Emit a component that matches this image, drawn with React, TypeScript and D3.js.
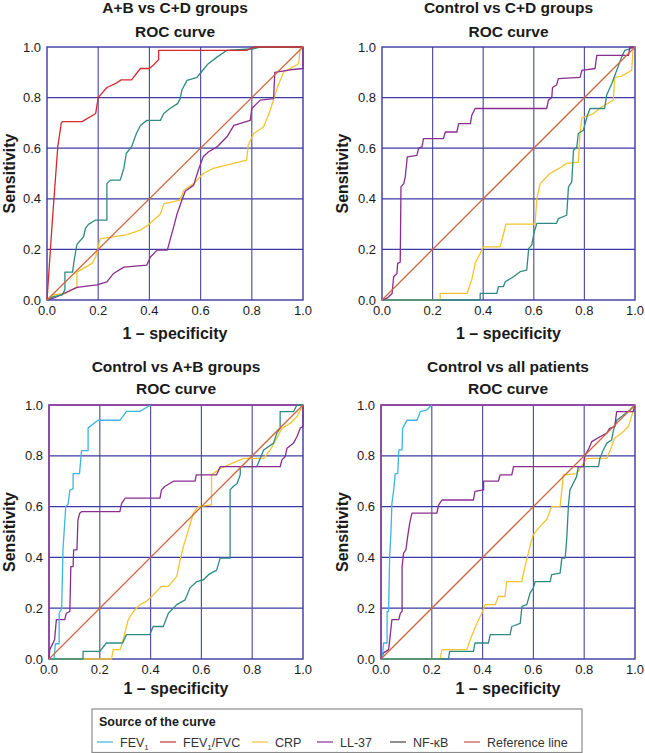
import React from "react";
import * as d3 from "d3";

type Pt = [number, number];

// ---------- DATA ----------
const ticks = [0, 0.2, 0.4, 0.6, 0.8, 1.0];
const tickLabels = ["0.0", "0.2", "0.4", "0.6", "0.8", "1.0"];
const panelTitles = ["A+B vs C+D groups", "Control vs C+D groups", "Control vs A+B groups", "Control vs all patients"];
const legendLabels = ["FEV1", "FEV1/FVC", "CRP", "LL-37", "NF-κB", "Reference line"];

// Panel 1: A+B vs C+D
const p1FevFvc: Pt[] = [[0,0],[0.02,0.3],[0.042,0.605],[0.056,0.7],[0.06,0.705],[0.137,0.705],[0.19,0.737],[0.2,0.8],[0.234,0.84],[0.267,0.855],[0.29,0.87],[0.33,0.87],[0.365,0.915],[0.4,0.915],[0.417,0.93],[0.436,0.95],[0.436,0.987],[0.78,0.987],[0.81,1],[1,1]];
const p1Nfkb: Pt[] = [[0,0],[0.013,0.007],[0.026,0.013],[0.059,0.02],[0.07,0.04],[0.07,0.11],[0.1,0.11],[0.105,0.15],[0.117,0.22],[0.143,0.25],[0.15,0.283],[0.163,0.3],[0.19,0.316],[0.234,0.316],[0.234,0.46],[0.247,0.474],[0.286,0.474],[0.3,0.52],[0.31,0.58],[0.33,0.605],[0.339,0.63],[0.35,0.66],[0.365,0.69],[0.39,0.71],[0.443,0.71],[0.456,0.737],[0.48,0.757],[0.51,0.776],[0.52,0.796],[0.527,0.83],[0.547,0.868],[0.586,0.88],[0.61,0.91],[0.63,0.934],[0.664,0.96],[0.703,0.987],[0.807,0.993],[0.833,1],[1,1]];
const p1Crp: Pt[] = [[0,0],[0.013,0.007],[0.026,0.02],[0.07,0.026],[0.117,0.05],[0.117,0.11],[0.176,0.145],[0.19,0.17],[0.2,0.21],[0.208,0.243],[0.31,0.257],[0.365,0.276],[0.4,0.3],[0.443,0.34],[0.456,0.38],[0.52,0.395],[0.534,0.434],[0.573,0.46],[0.61,0.5],[0.65,0.52],[0.78,0.553],[0.786,0.612],[0.807,0.658],[0.846,0.684],[0.872,0.75],[0.9,0.84],[0.924,0.9],[0.983,0.934],[0.99,1],[1,1]];
const p1Ll37: Pt[] = [[0,0],[0.026,0.007],[0.117,0.05],[0.195,0.06],[0.234,0.072],[0.26,0.105],[0.3,0.13],[0.39,0.138],[0.404,0.17],[0.43,0.197],[0.47,0.197],[0.495,0.29],[0.508,0.34],[0.527,0.395],[0.54,0.43],[0.573,0.454],[0.59,0.51],[0.61,0.566],[0.63,0.585],[0.664,0.605],[0.703,0.645],[0.73,0.69],[0.794,0.71],[0.8,0.757],[0.833,0.79],[0.885,0.796],[0.89,0.9],[0.95,0.91],[1,0.915],[1,1]];

// Panel 2: Control vs C+D
const p2Ll37: Pt[] = [[0,0],[0.02,0.007],[0.04,0.026],[0.046,0.092],[0.059,0.105],[0.062,0.145],[0.072,0.15],[0.075,0.447],[0.086,0.46],[0.092,0.487],[0.1,0.566],[0.138,0.572],[0.145,0.6],[0.158,0.605],[0.164,0.638],[0.243,0.638],[0.25,0.664],[0.296,0.664],[0.303,0.697],[0.349,0.697],[0.355,0.73],[0.368,0.757],[0.651,0.757],[0.658,0.79],[0.671,0.8],[0.674,0.84],[0.69,0.85],[0.697,0.875],[0.783,0.88],[0.79,0.908],[0.842,0.915],[0.849,0.967],[0.974,0.967],[0.98,1],[1,1]];
const p2Crp: Pt[] = [[0,0],[0.23,0],[0.23,0.026],[0.336,0.026],[0.355,0.08],[0.368,0.145],[0.388,0.184],[0.4,0.21],[0.467,0.21],[0.48,0.26],[0.49,0.3],[0.605,0.3],[0.612,0.4],[0.625,0.46],[0.664,0.5],[0.7,0.52],[0.73,0.54],[0.776,0.545],[0.782,0.65],[0.79,0.72],[0.836,0.737],[0.868,0.763],[0.914,0.79],[0.92,0.88],[0.947,0.885],[0.987,0.908],[0.993,1],[1,1]];
const p2Nfkb: Pt[] = [[0,0],[0.388,0],[0.388,0.026],[0.454,0.026],[0.46,0.053],[0.48,0.053],[0.487,0.072],[0.52,0.092],[0.546,0.112],[0.572,0.118],[0.58,0.204],[0.592,0.217],[0.6,0.263],[0.612,0.303],[0.69,0.303],[0.697,0.322],[0.73,0.335],[0.737,0.447],[0.75,0.467],[0.757,0.592],[0.77,0.605],[0.776,0.658],[0.796,0.671],[0.81,0.724],[0.822,0.757],[0.88,0.757],[0.888,0.81],[0.908,0.855],[0.928,0.908],[0.947,0.96],[0.96,0.987],[1,1]];

// Panel 3: Control vs A+B
const p3Perfect: Pt[] = [[0,0],[0,1],[1,1]];
const p3Fev1: Pt[] = [[0.02,0],[0.025,0.06],[0.04,0.06],[0.04,0.18],[0.05,0.2],[0.055,0.43],[0.066,0.6],[0.075,0.61],[0.082,0.665],[0.095,0.67],[0.095,0.73],[0.12,0.73],[0.128,0.82],[0.154,0.82],[0.154,0.91],[0.193,0.94],[0.28,0.94],[0.305,0.975],[0.358,0.975],[0.4,1]];
const p3Ll37: Pt[] = [[0,0],[0.003,0.037],[0.022,0.076],[0.029,0.155],[0.062,0.155],[0.068,0.18],[0.082,0.187],[0.086,0.364],[0.095,0.364],[0.097,0.43],[0.11,0.43],[0.114,0.548],[0.121,0.574],[0.128,0.58],[0.279,0.58],[0.286,0.613],[0.3,0.633],[0.437,0.633],[0.443,0.666],[0.457,0.68],[0.49,0.7],[0.575,0.7],[0.58,0.725],[0.66,0.725],[0.674,0.757],[0.91,0.757],[0.917,0.784],[0.93,0.797],[0.937,0.83],[0.963,0.85],[0.976,0.875],[0.99,0.91],[1,0.915],[1,1]];
const p3Nfkb: Pt[] = [[0,0],[0.134,0],[0.134,0.03],[0.2,0.03],[0.226,0.063],[0.29,0.063],[0.305,0.096],[0.397,0.096],[0.41,0.128],[0.45,0.128],[0.47,0.18],[0.503,0.214],[0.536,0.233],[0.555,0.28],[0.582,0.305],[0.608,0.312],[0.628,0.332],[0.66,0.35],[0.674,0.397],[0.713,0.397],[0.713,0.666],[0.726,0.68],[0.74,0.69],[0.753,0.725],[0.753,0.757],[0.818,0.757],[0.845,0.823],[0.884,0.85],[0.897,0.889],[0.91,0.908],[0.91,0.974],[0.963,0.974],[0.976,1],[1,1]];
const p3Crp: Pt[] = [[0,0],[0.246,0],[0.253,0.037],[0.28,0.037],[0.292,0.076],[0.312,0.155],[0.332,0.187],[0.358,0.214],[0.384,0.227],[0.404,0.246],[0.443,0.286],[0.47,0.286],[0.503,0.325],[0.516,0.39],[0.529,0.443],[0.549,0.508],[0.568,0.574],[0.588,0.6],[0.64,0.607],[0.64,0.725],[0.674,0.75],[0.72,0.77],[0.766,0.79],[0.845,0.79],[0.871,0.823],[0.897,0.869],[0.917,0.908],[0.95,0.928],[0.976,0.954],[1,1]];

// Panel 4: Control vs all patients
const p4Perfect: Pt[] = [[0,0],[0,1],[1,1]];
const p4Fev1: Pt[] = [[0.005,0],[0.01,0.063],[0.024,0.063],[0.024,0.187],[0.03,0.187],[0.034,0.403],[0.039,0.495],[0.043,0.613],[0.05,0.666],[0.056,0.73],[0.066,0.73],[0.07,0.823],[0.083,0.823],[0.085,0.908],[0.102,0.94],[0.142,0.94],[0.155,0.974],[0.18,0.98],[0.2,1]];
const p4Ll37: Pt[] = [[0,0],[0.01,0.024],[0.03,0.037],[0.037,0.1],[0.043,0.155],[0.07,0.155],[0.076,0.18],[0.083,0.187],[0.083,0.364],[0.089,0.417],[0.098,0.43],[0.105,0.482],[0.113,0.535],[0.122,0.574],[0.22,0.574],[0.227,0.607],[0.24,0.626],[0.364,0.626],[0.37,0.66],[0.404,0.666],[0.404,0.7],[0.462,0.7],[0.469,0.725],[0.515,0.725],[0.522,0.757],[0.797,0.757],[0.803,0.803],[0.816,0.823],[0.83,0.856],[0.862,0.875],[0.889,0.889],[0.9,0.908],[0.92,0.915],[0.928,0.974],[0.993,0.974],[1,1]];
const p4Nfkb: Pt[] = [[0,0],[0.266,0],[0.27,0.03],[0.364,0.03],[0.37,0.063],[0.423,0.063],[0.43,0.096],[0.508,0.096],[0.515,0.128],[0.548,0.14],[0.555,0.207],[0.574,0.214],[0.587,0.26],[0.6,0.28],[0.607,0.305],[0.666,0.305],[0.672,0.332],[0.705,0.338],[0.712,0.397],[0.725,0.397],[0.731,0.469],[0.738,0.607],[0.744,0.666],[0.757,0.692],[0.77,0.718],[0.777,0.757],[0.856,0.757],[0.862,0.79],[0.875,0.823],[0.889,0.85],[0.908,0.862],[0.915,0.9],[0.928,0.94],[0.98,0.98],[1,1]];
const p4Crp: Pt[] = [[0,0],[0.233,0],[0.24,0.037],[0.338,0.037],[0.351,0.076],[0.377,0.14],[0.397,0.18],[0.41,0.214],[0.45,0.214],[0.462,0.246],[0.488,0.246],[0.495,0.305],[0.554,0.305],[0.567,0.364],[0.593,0.469],[0.6,0.49],[0.626,0.522],[0.653,0.55],[0.672,0.6],[0.705,0.6],[0.718,0.725],[0.77,0.73],[0.797,0.77],[0.81,0.79],[0.889,0.79],[0.908,0.836],[0.92,0.87],[0.947,0.889],[0.974,0.915],[1,1]];

const refLine: Pt[] = [[0, 0], [1, 1]];

// ---------- STYLES ----------
const C = {
  fev1: "#3db4e4",
  fevfvc: "#d42a2e",
  crp: "#f4c430",
  ll37: "#8a2d8e",
  nfkb: "#2f8a82",
  nfkbLegend: "#444444",
  ref: "#d0663e",
  perfect: "#9a3a9e",
  grid: "#3a3aa2",
  gridV: "#5656a8",
  text: "#1a1a1a",
};

type Series = { pts: Pt[]; color: string };

const panels = [
  { x0: 47, x1: 303, y0: 47, y1: 300, titleY: 13, rocY: 37, xlabY: 339, ylabX: 15,
    series: [
      { pts: p1Crp, color: C.crp }, { pts: p1Ll37, color: C.ll37 }, { pts: p1Nfkb, color: C.nfkb },
      { pts: p1FevFvc, color: C.fevfvc }, { pts: refLine, color: C.ref },
    ] as Series[] },
  { x0: 382, x1: 635, y0: 47, y1: 300, titleY: 13, rocY: 37, xlabY: 339, ylabX: 348,
    series: [
      { pts: p2Crp, color: C.crp }, { pts: p2Nfkb, color: C.nfkb }, { pts: p2Ll37, color: C.ll37 },
      { pts: refLine, color: C.ref },
    ] as Series[] },
  { x0: 49, x1: 303, y0: 405, y1: 659, titleY: 372, rocY: 394, xlabY: 694, ylabX: 15,
    series: [
      { pts: p3Perfect, color: C.perfect }, { pts: p3Crp, color: C.crp }, { pts: p3Nfkb, color: C.nfkb },
      { pts: p3Ll37, color: C.ll37 }, { pts: p3Fev1, color: C.fev1 }, { pts: refLine, color: C.ref },
    ] as Series[] },
  { x0: 381, x1: 635, y0: 405, y1: 659, titleY: 372, rocY: 394, xlabY: 694, ylabX: 348,
    series: [
      { pts: p4Perfect, color: C.perfect }, { pts: p4Crp, color: C.crp }, { pts: p4Nfkb, color: C.nfkb },
      { pts: p4Ll37, color: C.ll37 }, { pts: p4Fev1, color: C.fev1 }, { pts: refLine, color: C.ref },
    ] as Series[] },
];

const FONT = "Liberation Sans, Arial, Helvetica, sans-serif";

function Panel({ p, title }: { p: (typeof panels)[number]; title: string }) {
  const x = d3.scaleLinear().domain([0, 1]).range([p.x0, p.x1]);
  const y = d3.scaleLinear().domain([0, 1]).range([p.y1, p.y0]);
  const line = d3.line<Pt>().x((d) => x(d[0])).y((d) => y(d[1]));
  const cx = (p.x0 + p.x1) / 2;
  const cy = (p.y0 + p.y1) / 2;
  return (
    <g>
      <text x={cx} y={p.titleY} textAnchor="middle" fontWeight="bold" fontSize={15.5} fill={C.text}>{title}</text>
      <text x={cx} y={p.rocY} textAnchor="middle" fontWeight="bold" fontSize={15.5} fill={C.text}>ROC curve</text>
      {ticks.slice(1, -1).map((t) => (
        <g key={t}>
          <line x1={x(t)} x2={x(t)} y1={p.y0} y2={p.y1} stroke={C.gridV} strokeWidth={1.2} />
          <line x1={p.x0} x2={p.x1} y1={y(t)} y2={y(t)} stroke={C.grid} strokeWidth={1.2} />
        </g>
      ))}
      <rect x={p.x0} y={p.y0} width={p.x1 - p.x0} height={p.y1 - p.y0} fill="none" stroke={C.grid} strokeWidth={1.4} />
      {p.series.map((s, i) => (
        <path key={i} d={line(s.pts) || ""} fill="none" stroke={s.color} strokeWidth={1.3} strokeLinejoin="round" />
      ))}
      {ticks.map((t, i) => (
        <text key={"x" + t} x={x(t)} y={p.y1 + 15} textAnchor="middle" fontSize={13} fill={C.text}>{tickLabels[i]}</text>
      ))}
      {ticks.map((t, i) => (
        <text key={"y" + t} x={p.x0 - 6} y={y(t) + 4.5} textAnchor="end" fontSize={13} fill={C.text}>{tickLabels[i]}</text>
      ))}
      <text x={cx} y={p.xlabY} textAnchor="middle" fontWeight="bold" fontSize={16} fill={C.text}>1 – specificity</text>
      <text transform={`translate(${p.ylabX},${cy}) rotate(-90)`} textAnchor="middle" fontWeight="bold" fontSize={16} fill={C.text}>Sensitivity</text>
    </g>
  );
}

const legendColors = [C.fev1, C.fevfvc, C.crp, C.ll37, C.nfkbLegend, "#c8504a"];
const legendX = [97, 160, 252, 317, 390, 464];

function LegendLabel({ label }: { label: string }) {
  if (label.startsWith("FEV1")) {
    return (
      <>
        FEV<tspan fontSize={8} dy={3}>1</tspan>
        <tspan dy={-3}>{label.slice(4)}</tspan>
      </>
    );
  }
  return <>{label}</>;
}

export default function App() {
  return (
    <svg width={645} height={753} style={{ position: "absolute", left: 0, top: 0, background: "#fff" }} fontFamily={FONT}>
      <rect x={0} y={0} width={645} height={753} fill="#fff" />
      {panels.map((p, i) => (
        <Panel key={i} p={p} title={panelTitles[i]} />
      ))}
      <rect x={92} y={709} width={490} height={43.5} fill="#fff" stroke="#8a8a8a" strokeWidth={1.2} />
      <text x={99} y={726} fontWeight="bold" fontSize={12.5} fill={C.text}>Source of the curve</text>
      {legendLabels.map((l, i) => (
        <g key={l}>
          <line x1={legendX[i]} x2={legendX[i] + 16} y1={742} y2={742} stroke={legendColors[i]} strokeWidth={1.2} />
          <text x={legendX[i] + 23} y={746.5} fontSize={12.5} fill="#333">
            <LegendLabel label={l} />
          </text>
        </g>
      ))}
    </svg>
  );
}
